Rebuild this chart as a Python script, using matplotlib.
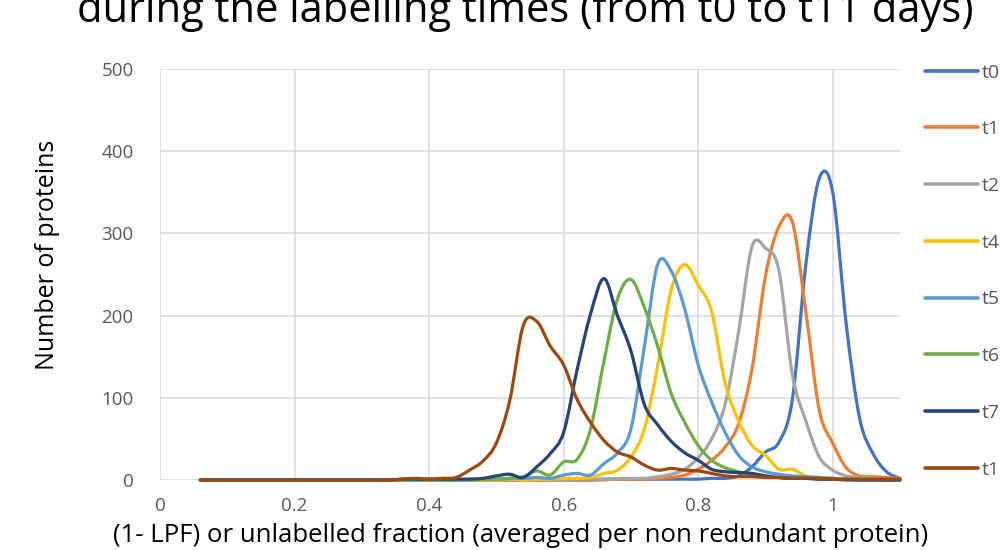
import matplotlib
matplotlib.use("Agg")
import matplotlib.pyplot as plt
from matplotlib.path import Path
from matplotlib.patches import PathPatch
from matplotlib.lines import Line2D
import numpy as np

# ---------------- data ----------------
x_vals = [0.06, 0.08, 0.10, 0.12, 0.14, 0.16, 0.18, 0.20, 0.22, 0.24,
          0.26, 0.28, 0.30, 0.32, 0.34, 0.36, 0.38, 0.40, 0.42, 0.44,
          0.46, 0.48, 0.50, 0.52, 0.54, 0.56, 0.58, 0.60, 0.62, 0.64,
          0.66, 0.68, 0.70, 0.72, 0.74, 0.76, 0.78, 0.80, 0.82, 0.84,
          0.86, 0.88, 0.90, 0.92, 0.94, 0.96, 0.98, 1.00, 1.02, 1.04,
          1.06, 1.08, 1.10]

t0 = [0, 0, 0, 0, 0, 0, 0, 0, 0, 0,
      0, 0, 0, 0, 0, 0, 0, 0, 0, 0,
      0, 0, 0, 0, 0, 0, 0, 0, 0, 0,
      1, 1, 1, 1, 1, 1, 1, 1, 2, 2,
      5, 16, 34, 46, 98, 262, 367, 350, 190, 75,
      32, 10, 2]

t1 = [0, 0, 0, 0, 0, 0, 0, 0, 0, 0,
      0, 0, 0, 0, 0, 0, 0, 0, 0, 0,
      0, 0, 0, 0, 0, 0, 0, 0, 0, 0,
      0, 1, 1, 1, 2, 3, 6, 13, 24, 40,
      68, 135, 248, 308, 314, 205, 85, 45, 15, 5,
      4, 3, 2]

t2 = [0, 0, 0, 0, 0, 0, 0, 0, 0, 0,
      0, 0, 0, 0, 0, 0, 0, 0, 0, 0,
      0, 0, 0, 0, 0, 0, 0, 0, 1, 1,
      1, 1, 2, 2, 4, 7, 13, 27, 50, 92,
      180, 284, 282, 255, 128, 72, 28, 12, 5, 3,
      2, 1, 1]

t4 = [0, 0, 0, 0, 0, 0, 0, 0, 0, 0,
      0, 0, 0, 0, 0, 0, 0, 0, 0, 0,
      0, 0, 0, 1, 0, 1, 1, 2, 2, 3,
      8, 12, 28, 62, 140, 232, 262, 237, 205, 118,
      72, 42, 30, 13, 13, 5, 3, 2, 1, 1,
      1, 0, 0]

t5 = [0, 0, 0, 0, 0, 0, 0, 0, 0, 0,
      0, 0, 0, 0, 0, 0, 0, 0, 0, 0,
      0, 1, 1, 2, 2, 3, 2, 6, 8, 6,
      20, 33, 62, 162, 263, 254, 208, 140, 95, 58,
      30, 16, 10, 7, 5, 4, 3, 2, 1, 1,
      1, 0, 0]

t6 = [0, 0, 0, 0, 0, 0, 0, 0, 0, 0,
      0, 0, 0, 0, 0, 0, 0, 0, 0, 0,
      1, 1, 1, 2, 4, 11, 6, 22, 25, 62,
      145, 220, 244, 210, 162, 105, 70, 42, 24, 15,
      10, 6, 4, 3, 2, 2, 1, 1, 1, 0,
      0, 0, 0]

t7 = [0, 0, 0, 0, 0, 0, 0, 0, 0, 0,
      0, 0, 0, 0, 0, 1, 1, 1, 1, 1,
      1, 2, 5, 7, 3, 16, 32, 58, 134, 202,
      245, 200, 157, 92, 67, 47, 33, 24, 13, 10,
      9, 8, 5, 3, 2, 2, 1, 1, 0, 0,
      0, 0, 0]

t11 = [0, 0, 0, 0, 0, 0, 0, 0, 0, 0,
       0, 0, 0, 0, 0, 1, 2, 1, 2, 3,
       12, 23, 45, 97, 188, 193, 163, 140, 98, 70,
       48, 34, 28, 18, 12, 14, 12, 11, 8, 5,
       4, 4, 3, 3, 2, 2, 2, 1, 1, 1,
       1, 1, 1]

series_names = ["t0", "t1", "t2", "t4", "t5", "t6", "t7", "t11"]
series_values = [t0, t1, t2, t4, t5, t6, t7, t11]
colors = ["#4472C4", "#ED7D31", "#A5A5A5", "#FFC000",
          "#5B9BD5", "#70AD47", "#264478", "#9E480E"]

x_ticks = [0, 0.2, 0.4, 0.6, 0.8, 1.0]
x_tick_labels = ["0", "0.2", "0.4", "0.6", "0.8", "1"]
y_ticks = [0, 100, 200, 300, 400, 500]

title_text = "during the labelling times (from t0 to t11 days)"
x_title = "(1- LPF) or unlabelled fraction (averaged per non redundant protein)"
y_title = "Number of proteins"

# ---------------- style ----------------
FONT = ["Open Sans", "DejaVu Sans"]
plt.rcParams["font.family"] = FONT
TXT = "#595959"
GRID = "#D9D9D9"
W, H = 1000.0, 550.0


def smooth_path(xs, ys):
    """Excel-like smoothed line: cubic Bezier through the points."""
    xs = np.asarray(xs, float)
    ys = np.asarray(ys, float)
    n = len(xs)
    verts = [(xs[0], ys[0])]
    codes = [Path.MOVETO]
    for i in range(n - 1):
        i0 = max(i - 1, 0)
        i3 = min(i + 2, n - 1)
        c1 = (xs[i] + (xs[i + 1] - xs[i0]) / 6.0, ys[i] + (ys[i + 1] - ys[i0]) / 6.0)
        c2 = (xs[i + 1] - (xs[i3] - xs[i]) / 6.0, ys[i + 1] - (ys[i3] - ys[i]) / 6.0)
        verts += [c1, c2, (xs[i + 1], ys[i + 1])]
        codes += [Path.CURVE4] * 3
    return Path(verts, codes)


fig = plt.figure(figsize=(10, 5.5), dpi=100)
ax = fig.add_axes([0.16, 0.1273, 0.74, 0.7473])

ax.set_xlim(0, 1.1)
ax.set_ylim(0, 500)
ax.set_xticks(x_ticks)
ax.set_xticklabels(x_tick_labels)
ax.set_yticks(y_ticks)
for s in ax.spines.values():
    s.set_visible(False)
ax.grid(True, color=GRID, lw=1.1)
ax.set_axisbelow(True)
ax.tick_params(length=0, labelsize=13.5, labelcolor=TXT)
ax.tick_params(axis="y", pad=19)
ax.tick_params(axis="x", pad=12)

for name, vals, col in zip(series_names, series_values, colors):
    p = PathPatch(smooth_path(x_vals, vals), facecolor="none", edgecolor=col,
                  lw=2.3, capstyle="round", joinstyle="round", clip_on=False,
                  zorder=3)
    ax.add_patch(p)

# axis titles
fig.text(521 / W, 1 - 535 / H, x_title, ha="center", va="center",
         fontsize=18.5, color="black")
fig.text(48 / W, 1 - 255 / H, y_title, ha="center", va="center",
         rotation=90, fontsize=18, color="black")

# chart title (its upper part runs past the top edge, as in the source)
fig.text(0.525, 1 - 22 / H, title_text, ha="center", va="baseline",
         fontsize=30, color="black")

# legend (manual, figure coordinates)
for i, (name, col) in enumerate(zip(series_names, colors)):
    yc = 1 - (70.7 + i * 56.7) / H
    fig.add_artist(Line2D([925 / W, 978 / W], [yc, yc], color=col, lw=2.6,
                          solid_capstyle="round", transform=fig.transFigure))
    fig.text(982 / W, yc, name, ha="left", va="center_baseline",
             fontsize=14, color=TXT)

fig.savefig("out.png", dpi=100)
